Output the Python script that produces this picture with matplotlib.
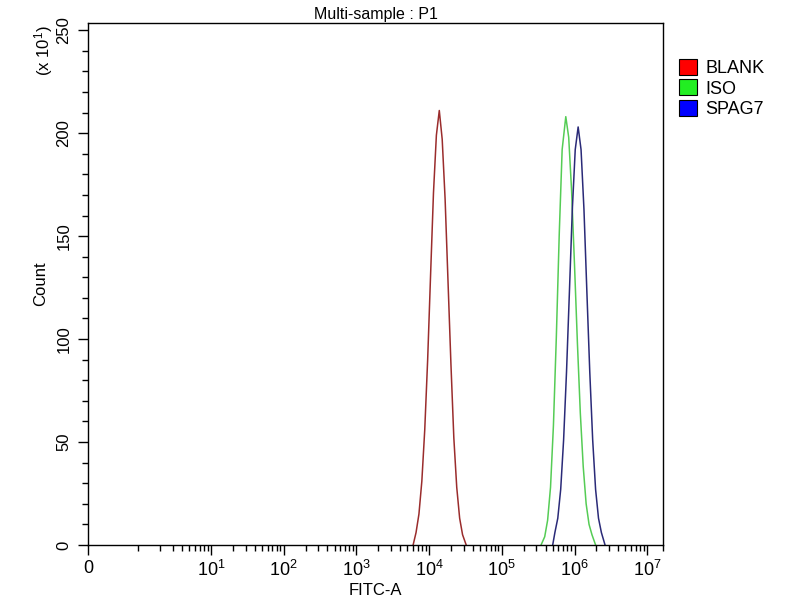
import matplotlib
matplotlib.use("Agg")
import matplotlib.pyplot as plt
import numpy as np
from matplotlib.patches import Patch

plt.rcParams["font.family"] = ["Liberation Sans Narrow", "Liberation Sans", "DejaVu Sans"]
plt.rcParams["mathtext.default"] = "regular"

red_log = [3.78, 3.82, 3.86, 3.90, 3.94, 3.98, 4.02, 4.06, 4.10, 4.14, 4.18, 4.22, 4.26, 4.30, 4.34, 4.38, 4.42, 4.46, 4.51]
red_cnt = [0, 6, 15, 31, 56, 90, 131, 171, 199, 211, 197, 168, 128, 88, 52, 28, 13, 5, 0]

green_log = [5.54, 5.59, 5.63, 5.67, 5.71, 5.75, 5.79, 5.83, 5.88, 5.92, 5.96, 6.00, 6.04, 6.08, 6.12, 6.16, 6.20, 6.24, 6.29]
green_cnt = [0, 4, 12, 28, 58, 101, 151, 192, 208, 198, 172, 136, 98, 64, 38, 20, 10, 5, 0]

blue_log = [5.70, 5.73, 5.77, 5.81, 5.85, 5.89, 5.93, 5.97, 6.01, 6.05, 6.09, 6.13, 6.17, 6.21, 6.25, 6.29, 6.33, 6.37, 6.42]
blue_cnt = [0, 6, 13, 27, 51, 84, 123, 163, 192, 203, 192, 163, 123, 84, 51, 27, 13, 6, 0]

series_names = ["BLANK", "ISO", "SPAG7"]
line_colors = ["#9a2c2c", "#55cc55", "#2a2a78"]
legend_colors = ["#ff0000", "#22ee22", "#0000ff"]

x_major = [0, 1e1, 1e2, 1e3, 1e4, 1e5, 1e6, 1e7]
x_major_labels = ["0"] + [f"$10^{{{k}}}$" for k in range(1, 8)]
y_major = [0, 50, 100, 150, 200, 250]

fig = plt.figure(figsize=(8, 6), dpi=100)
ax = fig.add_axes([0.11, 0.0917, 0.719, 0.87])

traces = [(red_log, red_cnt), (green_log, green_cnt), (blue_log, blue_cnt)]
for (lg, cnt), col in zip(traces, line_colors):
    ax.plot(10 ** np.array(lg), cnt, color=col, lw=1.1)

ax.set_xscale("symlog", linthresh=1, linscale=0.623)
ax.set_xlim(0, 10 ** 7.22)
ax.set_ylim(0, 253.5)

minors = [k * 10 ** d for d in range(0, 7) for k in range(1, 10) if not (k == 1 and d > 0)]
minors.append(10 ** 7.22)
ax.set_xticks(x_major)
ax.set_xticklabels(x_major_labels, fontsize=13)
ax.set_xticks(minors, minor=True)
ax.set_yticks(y_major)
ax.set_yticklabels([str(v) for v in y_major], rotation=90, va="center", fontsize=12)
ax.set_yticks(np.arange(0, 251, 10), minor=True)

ax.tick_params(axis="both", which="major", length=7, width=1, color="black")
ax.tick_params(axis="both", which="minor", length=4, width=1, color="black")
ax.tick_params(axis="x", which="major", pad=4)
ax.tick_params(axis="y", which="major", pad=5)
for sp in ax.spines.values():
    sp.set_linewidth(1)

ax.set_xlabel("FITC-A", fontsize=12, labelpad=2)
ax.set_ylabel("Count", fontsize=12, labelpad=6)
ax.set_title("Multi-sample : P1", fontsize=11.5, pad=3)
fig.text(0.055, 0.958, "(x $10^{1}$)", rotation=90, fontsize=12, ha="center", va="top")

handles = [Patch(facecolor=c, edgecolor="black", lw=0.8) for c in legend_colors]
fig.legend(handles, series_names, loc="upper left", bbox_to_anchor=(0.84, 0.914),
           frameon=False, fontsize=13, handlelength=1.0, handleheight=1.0,
           handletextpad=0.45, labelspacing=0.12, borderaxespad=0)

fig.savefig("out.png", dpi=100)
